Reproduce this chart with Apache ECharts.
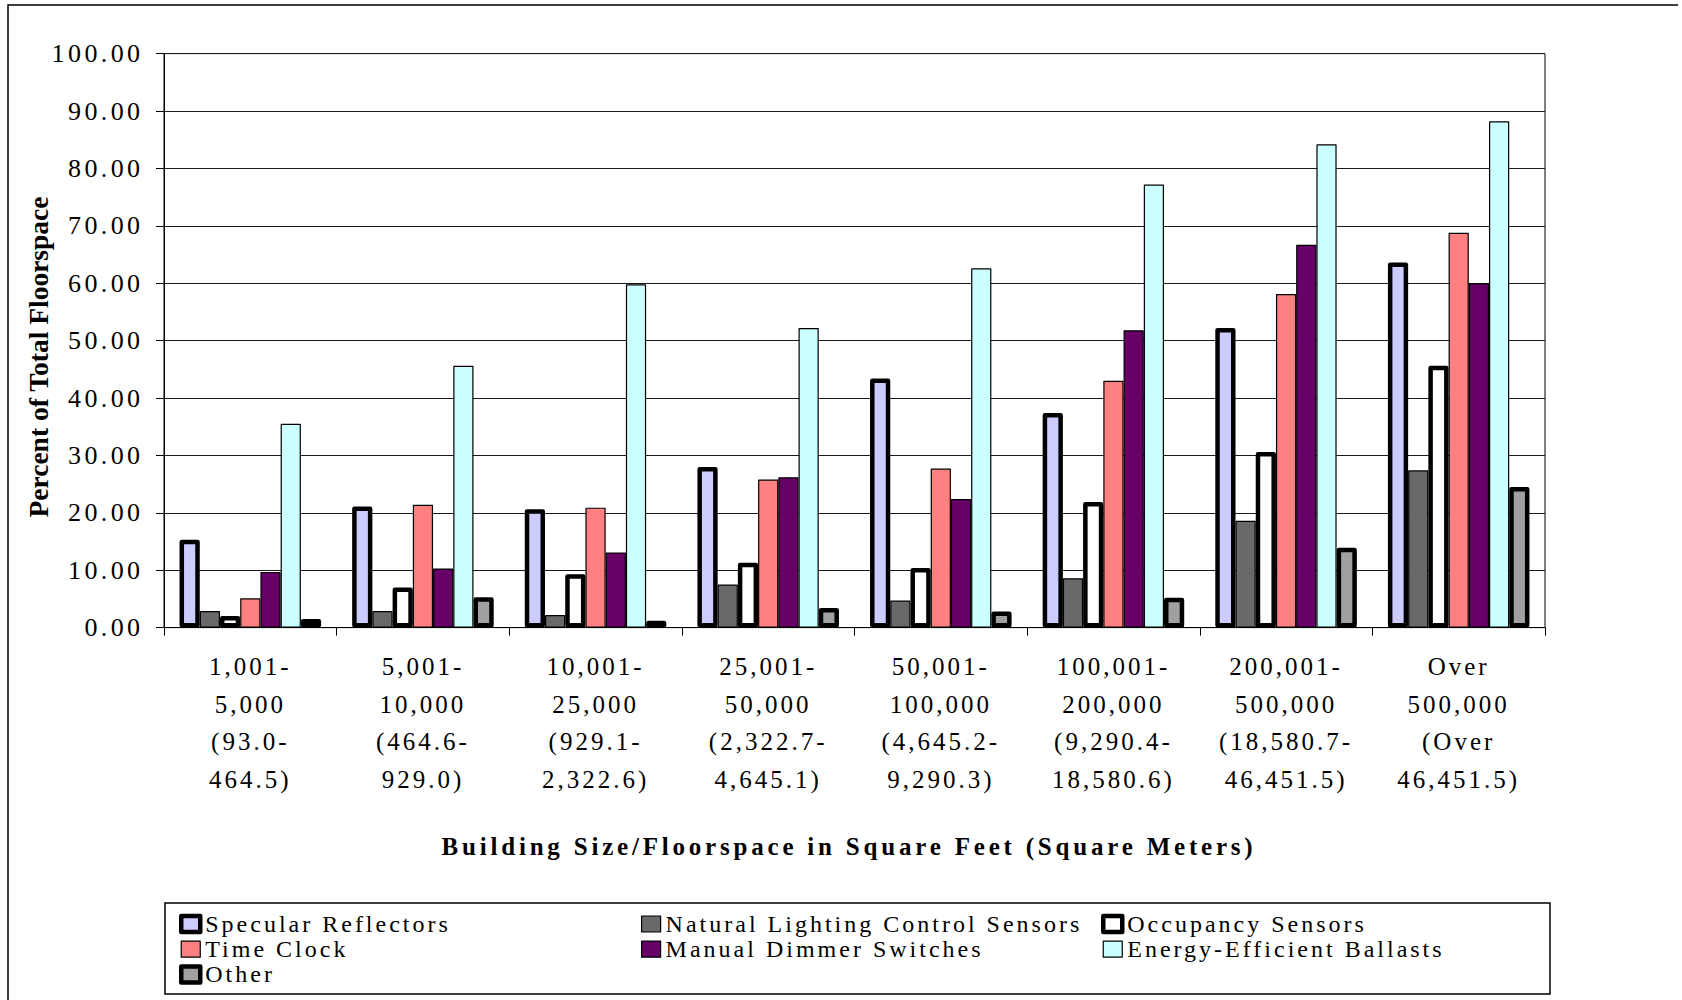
<!DOCTYPE html>
<html>
<head>
<meta charset="utf-8">
<script src="https://cdn.jsdelivr.net/npm/echarts@6/dist/echarts.min.js"></script>
<style>
  html, body { margin: 0; padding: 0; background: #fff; }
  #chart { width: 1682px; height: 1000px; }
</style>
</head>
<body>
<div id="chart"></div>
<script>
// Building size classes (square feet, square meters in parentheses)
const categories = [
  '1,001-\n5,000\n(93.0-\n464.5)',
  '5,001-\n10,000\n(464.6-\n929.0)',
  '10,001-\n25,000\n(929.1-\n2,322.6)',
  '25,001-\n50,000\n(2,322.7-\n4,645.1)',
  '50,001-\n100,000\n(4,645.2-\n9,290.3)',
  '100,001-\n200,000\n(9,290.4-\n18,580.6)',
  '200,001-\n500,000\n(18,580.7-\n46,451.5)',
  'Over\n500,000\n(Over\n46,451.5)'
];

// Percent of total floorspace per lighting technology
const specularReflectors = [15.3, 21.1, 20.6, 28.0, 43.4, 37.4, 52.2, 63.6];
const naturalLighting    = [2.9, 2.9, 2.2, 7.5, 4.7, 8.6, 18.6, 27.4];
const occupancySensors   = [2.0, 7.0, 9.3, 11.3, 10.4, 21.9, 30.6, 45.6];
const timeClock          = [5.1, 21.4, 20.9, 25.8, 27.7, 43.0, 58.1, 68.8];
const dimmerSwitches     = [9.7, 10.3, 13.1, 26.2, 22.4, 51.8, 66.7, 60.0];
const efficientBallasts  = [35.5, 45.6, 59.8, 52.2, 62.6, 77.2, 84.2, 88.2];
const otherTech          = [1.5, 5.3, 1.2, 3.4, 2.8, 5.2, 13.9, 24.5];

const yTicks = { min: 0, max: 100, interval: 10 };

const xTitle = 'Building Size/Floorspace in Square Feet (Square Meters)';
const yTitle = 'Percent of Total Floorspace';

const FONT = 'Liberation Serif';

const seriesDefs = [
  { name: 'Specular Reflectors', data: specularReflectors, color: '#CCCCFF', thick: true },
  { name: 'Natural Lighting Control Sensors', data: naturalLighting, color: '#696969', thick: false },
  { name: 'Occupancy Sensors', data: occupancySensors, color: '#FFFFFF', thick: true },
  { name: 'Time Clock', data: timeClock, color: '#FF8080', thick: false },
  { name: 'Manual Dimmer Switches', data: dimmerSwitches, color: '#660066', thick: false },
  { name: 'Energy-Efficient Ballasts', data: efficientBallasts, color: '#CCFFFF', thick: false },
  { name: 'Other', data: otherTech, color: '#A0A0A0', thick: true }
];
const seriesNames = seriesDefs.map(s => s.name);

function styleOf(def) {
  return {
    color: def.color,
    borderColor: '#000',
    borderWidth: def.thick ? 4.5 : 1.2,
    borderJoin: 'round'
  };
}

const series = seriesDefs.map(def => ({
  name: def.name,
  type: 'bar',
  data: def.data,
  barGap: '0%',
  barCategoryGap: '18%',
  z: def.thick ? 3 : 2,
  itemStyle: styleOf(def),
  emphasis: { disabled: true }
}));

function legendColumn(names, left) {
  return {
    orient: 'vertical',
    left: left,
    top: 912,
    height: 80,
    padding: 0,
    itemWidth: 19,
    itemHeight: 16,
    itemGap: 1.2,
    selectedMode: false,
    textStyle: { fontFamily: FONT, fontSize: 24, color: '#000', lineHeight: 24 },
    data: names.map(n => {
      const def = seriesDefs.find(d => d.name === n);
      return { name: n, icon: 'rect', itemStyle: styleOf(def) };
    })
  };
}

const chart = echarts.init(document.getElementById('chart'), null, { renderer: 'svg' });

chart.setOption({
  animation: false,
  backgroundColor: '#fff',
  grid: {
    left: 164, right: 137, top: 53.6, bottom: 372.4,
    show: true, borderColor: '#000', borderWidth: 1
  },
  legend: [
    legendColumn(['Specular Reflectors', 'Time Clock', 'Other'], 179),
    legendColumn(['Natural Lighting Control Sensors', 'Manual Dimmer Switches'], 641),
    legendColumn(['Occupancy Sensors', 'Energy-Efficient Ballasts'], 1101)
  ],
  xAxis: {
    type: 'category',
    data: categories,
    axisLine: { lineStyle: { color: '#000', width: 1 } },
    axisTick: { show: true, length: 8, lineStyle: { color: '#000' } },
    axisLabel: {
      interval: 0, fontFamily: FONT, fontSize: 25, color: '#000',
      lineHeight: 37.7, margin: 20
    },
    splitLine: { show: false }
  },
  yAxis: {
    type: 'value',
    min: yTicks.min, max: yTicks.max, interval: yTicks.interval,
    axisLine: { show: true, lineStyle: { color: '#000', width: 1 } },
    axisTick: { show: true, length: 8, lineStyle: { color: '#000' } },
    axisLabel: {
      fontFamily: FONT, fontSize: 26, color: '#000', margin: 20.5,
      formatter: v => v.toFixed(2)
    },
    splitLine: { show: true, lineStyle: { color: '#1a1a1a', width: 1 } }
  },
  graphic: [
    {
      type: 'polyline', silent: true,
      shape: { points: [[8, 1010], [8, 5], [1678, 5]] },
      style: { stroke: '#000', lineWidth: 1.5, fill: null }
    },
    {
      type: 'rect', silent: true,
      shape: { x: 165, y: 903, width: 1385, height: 91 },
      style: { stroke: '#000', lineWidth: 1.5, fill: null }
    },
    {
      type: 'text', silent: true,
      x: 849, y: 846,
      style: {
        text: xTitle, fontFamily: FONT, fontSize: 25, fontWeight: 'bold',
        fill: '#000', align: 'center', verticalAlign: 'middle'
      }
    },
    {
      type: 'text', silent: true,
      x: 38.6, y: 357, rotation: Math.PI / 2,
      style: {
        text: yTitle, fontFamily: FONT, fontSize: 27.5, fontWeight: 'bold',
        fill: '#000', align: 'center', verticalAlign: 'middle'
      }
    }
  ],
  series: series
});

// Serif labels are set with open tracking; the vertical title stays tight.
function applyTracking() {
  document.querySelectorAll('#chart svg text').forEach(t => {
    const s = t.textContent;
    let ls = '3px';
    if (s === yTitle) ls = '0px';
    else if (s === xTitle) ls = '3.8px';
    else if (/^\d+\.00$/.test(s)) ls = '3.4px';
    else if (seriesNames.includes(s)) ls = '3px';
    t.style.letterSpacing = ls;
  });
}
applyTracking();
chart.on('finished', applyTracking);
</script>
</body>
</html>
